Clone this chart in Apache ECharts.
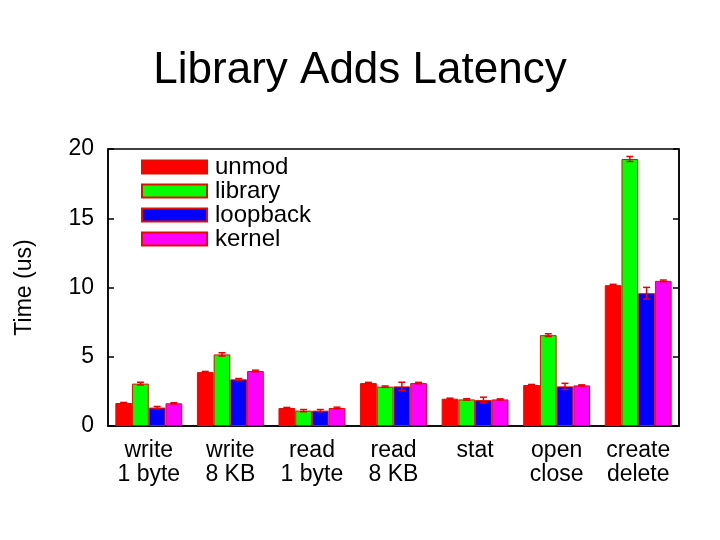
<!DOCTYPE html>
<html>
<head>
<meta charset="utf-8">
<script src="https://cdn.jsdelivr.net/npm/echarts@6/dist/echarts.min.js"></script>
<style>
  html, body { margin: 0; padding: 0; background: #fff; }
  #chart { width: 720px; height: 540px; }
</style>
</head>
<body>
<div id="chart"></div>
<script>
var categories = ['write\n1 byte', 'write\n8 KB', 'read\n1 byte', 'read\n8 KB', 'stat', 'open\nclose', 'create\ndelete']
var seriesNames = ['unmod', 'library', 'loopback', 'kernel']
var seriesColors = ['#ff0000', '#00ff00', '#0000ff', '#ff00ff']

var unmod = [1.66, 3.89, 1.30, 3.10, 1.97, 2.96, 10.17]
var library = [3.06, 5.17, 1.11, 2.84, 1.92, 6.56, 19.28]
var loopback = [1.33, 3.37, 1.11, 2.86, 1.88, 2.86, 9.59]
var kernel = [1.64, 3.97, 1.30, 3.10, 1.92, 2.93, 10.48]

var unmodErr = [0.04, 0.05, 0.04, 0.05, 0.04, 0.04, 0.06]
var libraryErr = [0.10, 0.12, 0.08, 0.05, 0.05, 0.10, 0.18]
var loopbackErr = [0.08, 0.06, 0.08, 0.30, 0.20, 0.22, 0.42]
var kernelErr = [0.04, 0.06, 0.06, 0.05, 0.04, 0.04, 0.06]

var yTicks = [0, 5, 10, 15, 20]

var values = [unmod, library, loopback, kernel]
var errors = [unmodErr, libraryErr, loopbackErr, kernelErr]
var catGap = 0.18
var font = 'Liberation Sans, Arial, sans-serif'

function errorRenderer(idx) {
  return function(params, api) {
    var x = api.value(0)
    var band = api.size([1, 0])[0]
    var used = band * (1 - catGap)
    var barW = used / seriesNames.length
    var cx = api.coord([x, 0])[0] - used / 2 + barW * (idx + 0.5)
    var yLo = api.coord([x, api.value(1)])[1]
    var yHi = api.coord([x, api.value(2)])[1]
    var cap = 3.5
    var style = {stroke: '#ee0000', lineWidth: 1.5}
    return {
      type: 'group',
      children: [
        {type: 'line', shape: {x1: cx, y1: yLo, x2: cx, y2: yHi}, style: style},
        {type: 'line', shape: {x1: cx - cap, y1: yLo, x2: cx + cap, y2: yLo}, style: style},
        {type: 'line', shape: {x1: cx - cap, y1: yHi, x2: cx + cap, y2: yHi}, style: style}
      ]
    }
  }
}

var series = []
seriesNames.forEach(function(name, i) {
  series.push({
    name: name,
    type: 'bar',
    data: values[i],
    barGap: 0,
    barCategoryGap: (catGap * 100) + '%',
    itemStyle: {
      color: seriesColors[i],
      borderColor: '#e01000',
      borderWidth: 1
    },
    z: 2
  })
})
seriesNames.forEach(function(name, i) {
  series.push({
    name: name + '-err',
    type: 'custom',
    renderItem: errorRenderer(i),
    data: values[i].map(function(v, k) {
      return [k, v - errors[i][k], v + errors[i][k]]
    }),
    z: 5,
    silent: true
  })
})

var yAxisBase = {
  type: 'value',
  min: yTicks[0],
  max: yTicks[yTicks.length - 1],
  interval: 5,
  splitLine: {show: false},
  axisLine: {show: true, lineStyle: {color: '#000', width: 1.5}},
  axisTick: {show: true, inside: true, length: 6, lineStyle: {color: '#000', width: 1.5}}
}

var myChart = echarts.init(document.getElementById('chart'))
var option = {
  animation: false,
  backgroundColor: '#fff',
  textStyle: {fontFamily: font},
  title: {
    text: 'Library Adds Latency',
    left: 'center',
    top: 44,
    textStyle: {fontFamily: font, fontSize: 44, fontWeight: 'normal', color: '#000'}
  },
  legend: {
    data: seriesNames,
    orient: 'vertical',
    left: 136,
    top: 150,
    itemWidth: 65,
    itemHeight: 13,
    itemGap: 0,
    icon: 'rect',
    textStyle: {fontFamily: font, fontSize: 24, color: '#000', lineHeight: 24, padding: [0, 0, 0, 3]}
  },
  grid: {
    left: 108,
    right: 41,
    top: 149,
    bottom: 114,
    show: true,
    borderColor: '#000',
    borderWidth: 1.5
  },
  xAxis: {
    type: 'category',
    data: categories,
    axisLine: {lineStyle: {color: '#000', width: 1.5}},
    axisTick: {show: false},
    axisLabel: {
      color: '#000',
      fontFamily: font,
      fontSize: 23,
      lineHeight: 24,
      margin: 13,
      interval: 0
    }
  },
  yAxis: [
    Object.assign({}, yAxisBase, {
      position: 'left',
      name: 'Time (us)',
      nameLocation: 'middle',
      nameGap: 72,
      nameTextStyle: {fontFamily: font, fontSize: 23, color: '#000'},
      axisLabel: {color: '#000', fontFamily: font, fontSize: 23, margin: 14}
    }),
    Object.assign({}, yAxisBase, {
      position: 'right',
      axisLabel: {show: false}
    })
  ],
  series: series
}
myChart.setOption(option)
</script>
</body>
</html>
